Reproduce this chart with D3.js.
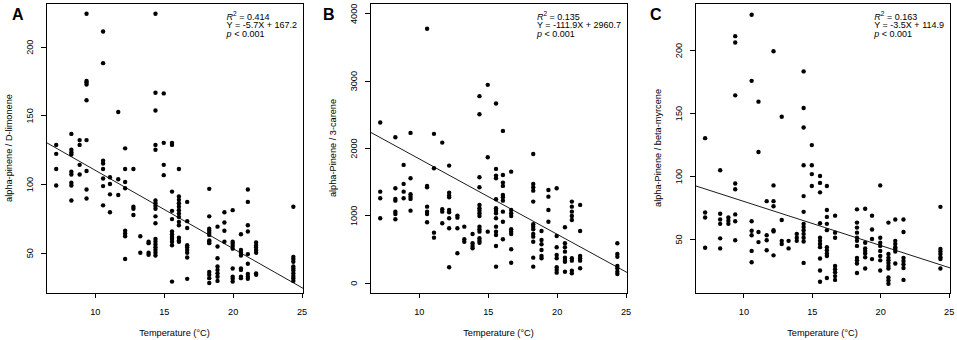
<!DOCTYPE html>
<html>
<head>
<meta charset="utf-8">
<script src="https://cdn.jsdelivr.net/npm/d3@7"></script>
<style>
  body { margin: 0; background: #fff; }
  text { font-family: "Liberation Sans", Arial, sans-serif; fill: #000; }
</style>
</head>
<body>
<svg id="chart" width="957" height="340"></svg>
<script>
// temperature columns (°C), shared by the three panels
var temps = [7.2, 8.3, 8.9, 9.4, 10.6, 11.1, 11.7, 12.2, 12.8, 13.3, 13.9, 14.4,
             15.0, 15.6, 16.1, 16.7, 18.3, 18.9, 19.4, 20.0, 20.6, 21.1, 21.7, 24.4];

// A: alpha-pinene / D-limonene, one list per temperature column
var ratioA = [
  [128.5, 122, 111, 99],
  [136.5, 125, 123, 121.5, 109, 107, 101, 99, 88],
  [132, 128.5, 114, 107],
  [224, 175, 174, 172.5, 161, 132, 109.5, 96, 89.5],
  [211, 188, 117, 115, 111, 104, 98.5, 84.5],
  [105, 100, 92.5, 79.5],
  [152.5, 103.5, 92],
  [126, 111, 101.5, 97, 66, 64, 62, 45.5],
  [111, 83.5, 82, 77.5],
  [62, 50],
  [58, 57, 50, 48.5],
  [224, 166.5, 153.5, 128.5, 125, 88, 86, 84, 82, 76.5, 71.5, 60, 58, 56, 54, 52, 50, 48],
  [166, 130, 114, 106.5],
  [130, 128.5, 94.5, 80.5, 74.5, 65.5, 63.5, 61.5, 60, 58, 55.5, 29],
  [111, 91, 88.5, 86, 83.5, 81, 78.5, 76, 72.5, 70, 61, 59, 58],
  [87, 73, 68, 55.5, 54, 52, 50, 46.5, 31],
  [96.5, 76.5, 67.5, 66, 64.5, 63, 59, 58, 57, 36, 34, 31.5, 28],
  [69, 54.5, 46, 40, 37.5, 35, 32.5, 29.5],
  [79.5, 72, 66, 58],
  [81, 58, 56.5, 55, 53, 38.5, 32.5, 31, 29],
  [63.5, 52, 50, 48, 38.5, 37.5, 32.5, 31.5],
  [96, 87, 70, 65.5, 49, 42, 34.5, 32.5, 31],
  [57.5, 55.5, 54, 52, 50, 35, 34],
  [83.5, 47, 45.5, 43.5, 40, 38.5, 37, 35, 33, 31.5, 29.5]
];

// B: alpha-Pinene / 3-carene
var ratioB = [
  [2378, 1352, 1254, 957],
  [2160, 1403, 1244, 1218, 1055, 1021, 942],
  [1749, 1467, 1352, 1254],
  [2224, 1551, 1313, 1278, 1244, 1070],
  [3770, 1437, 1418, 1129, 1055, 1021, 897],
  [2210, 1700, 743, 669],
  [2080, 1091, 1055, 883],
  [1739, 1337, 1293, 1269, 1080, 1046, 957, 808, 229],
  [996, 966, 808, 437],
  [832, 645, 609],
  [724, 585, 545, 511],
  [2770, 2502, 1566, 1418, 1155, 1105, 1070, 1031, 991, 832, 793, 758, 660, 624, 594],
  [2938, 1863, 758],
  [2660, 1690, 1590, 1551, 1239, 1105, 1070, 1031, 957, 832, 758, 709, 545, 238],
  [2254, 1600, 1486, 1437, 1303, 1269, 1218, 1055, 906, 645],
  [1649, 1080, 1031, 991, 793, 758, 724, 496, 297],
  [1912, 1467, 1418, 1367, 1204, 868, 832, 793, 724, 684, 609, 372, 238],
  [768, 634, 571, 486, 397, 363],
  [1377, 1278, 1080, 906],
  [1403, 694, 526, 412, 363, 229, 189, 149],
  [823, 585, 526, 461, 372, 337, 312, 163],
  [1204, 1129, 1055, 991, 932, 363, 327, 178, 140],
  [1155, 768, 397, 363, 327, 214],
  [585, 426, 386, 248, 214, 163, 129]
];

// C: alpha-Pinene / beta-myrcene
var ratioC = [
  [130, 71, 67, 43],
  [104.5, 70, 65.5, 62, 50.5, 42.5],
  [67, 64.5, 62],
  [211, 206, 164, 94, 89.5, 69.5, 64, 49],
  [228, 175.5, 64, 56.5, 53, 40.5, 31.5],
  [159, 119, 55.5, 47.5],
  [80, 53, 49, 41],
  [199, 92.5, 80, 76, 57, 56, 37],
  [147, 65, 48.5, 46],
  [48.5, 42.5],
  [54, 51, 48.5],
  [183, 154, 138.5, 108.5, 84, 71.5, 62, 59.5, 57, 54, 51, 48, 31],
  [124.5, 108.5, 101.5, 92],
  [100, 94.5, 87, 62.5, 51, 48.5, 46, 43.5, 34.5, 25, 16],
  [92, 73, 67.5, 62, 57, 43.5, 41, 38.5, 36.5, 19],
  [68.5, 55, 51, 28.5, 26, 23.5, 20.5, 17.5],
  [73.5, 63, 59, 55, 51, 48.5, 44.5, 35, 33, 30.5, 23],
  [74, 47, 42.5, 40.5, 38.5, 35.5, 26.5],
  [68.5, 57.5, 50, 34],
  [92.5, 51, 47, 44.5, 40.5, 36.5, 33, 25],
  [63, 38, 35, 33, 31, 28.5, 26.5, 19.5, 17, 14.5],
  [65.5, 48.5, 46, 43.5, 42, 40, 30.5],
  [65.5, 55.5, 35, 32.5, 30, 27, 17.5],
  [75.5, 42, 40, 38, 35.5, 34, 26.5]
];

// tick labels
var xTicks = [10, 15, 20, 25];
var yTicksA = [50, 100, 150, 200];
var yTicksB = [0, 1000, 2000, 3000, 4000];
var yTicksC = [50, 100, 150, 200];

// regression fits: [slope, intercept] and the printed stats
var fits = [[-5.7, 167.2], [-111.9, 2960.7], [-3.5, 114.9]];
var rSquared = ["0.414", "0.135", "0.163"];
var equations = ["Y = -5.7X + 167.2", "Y = -111.9X + 2960.7", "Y = -3.5X + 114.9"];
var yLabels = ["alpha-pinene / D-limonene", "alpha-Pinene / 3-carene", "alpha-Pinene / beta-myrcene"];
var letters = ["A", "B", "C"];

// layout of the three plot boxes
var plotTop = 3, plotBottom = 293;
var xDomain = [6.46, 25.1];
var panels = [
  {left: 46,  right: 303, yDomain: [20.7, 231.8], yTicks: yTicksA, values: ratioA, letterX: 12},
  {left: 370, right: 627, yDomain: [-153, 4153],  yTicks: yTicksB, values: ratioB, letterX: 323},
  {left: 695, right: 950, yDomain: [7.1, 237.3],  yTicks: yTicksC, values: ratioC, letterX: 650}
];

var svg = d3.select("#chart");

panels.forEach(function(p, k) {
    var x = d3.scaleLinear().domain(xDomain).range([p.left, p.right]);
    var y = d3.scaleLinear().domain(p.yDomain).range([plotBottom, plotTop]);
    var g = svg.append("g");

    // flatten column lists into [temp, value] points
    var pts = [];
    temps.forEach(function(t, i) {
        p.values[i].forEach(function(v) { pts.push([t, v]); });
    });

    g.append("g").selectAll("circle")
        .data(pts)
        .enter().append("circle")
            .attr("cx", function(d) { return x(d[0]); })
            .attr("cy", function(d) { return y(d[1]); })
            .attr("r", 2.2)
            .attr("fill", "#000");

    // fitted line, drawn edge to edge like abline
    var f = fits[k];
    g.append("line")
        .attr("x1", x(xDomain[0])).attr("y1", y(f[0] * xDomain[0] + f[1]))
        .attr("x2", x(xDomain[1])).attr("y2", y(f[0] * xDomain[1] + f[1]))
        .attr("stroke", "#000").attr("stroke-width", 0.9);

    // box
    g.append("rect")
        .attr("x", p.left).attr("y", plotTop)
        .attr("width", p.right - p.left).attr("height", plotBottom - plotTop)
        .attr("fill", "none").attr("stroke", "#000").attr("stroke-width", 1)
        .attr("shape-rendering", "crispEdges");

    // x axis
    var xa = g.append("g")
        .attr("transform", "translate(0," + plotBottom + ")")
        .call(d3.axisBottom(x).tickValues(xTicks).tickSize(5).tickPadding(10));
    xa.select(".domain").remove();
    xa.selectAll("line").attr("shape-rendering", "crispEdges");
    xa.selectAll("text").style("font-size", "9.2px")
        .style("font-family", "'Liberation Sans', Arial, sans-serif");

    // y axis, labels turned parallel to the axis (no thousands separator)
    var ya = g.append("g")
        .attr("transform", "translate(" + p.left + ",0)")
        .call(d3.axisLeft(y).tickValues(p.yTicks).tickSize(5).tickFormat(d3.format("d")));
    ya.select(".domain").remove();
    ya.selectAll("line").attr("shape-rendering", "crispEdges");
    ya.selectAll("text")
        .attr("transform", "rotate(-90)")
        .attr("x", 0).attr("y", -13).attr("dy", null)
        .style("text-anchor", "middle")
        .style("font-size", "9.2px")
        .style("font-family", "'Liberation Sans', Arial, sans-serif");

    // axis titles
    g.append("text")
        .attr("x", (p.left + p.right) / 2).attr("y", 336)
        .attr("text-anchor", "middle").style("font-size", "9.2px")
        .text("Temperature (°C)");
    g.append("text")
        .attr("transform", "translate(" + (p.left - 34) + "," + ((plotTop + plotBottom) / 2) + ") rotate(-90)")
        .attr("text-anchor", "middle").style("font-size", "9.2px")
        .text(yLabels[k]);

    // panel letter
    g.append("text")
        .attr("x", p.letterX).attr("y", 20)
        .style("font-size", "16px").style("font-weight", "bold")
        .text(letters[k]);

    // stats block in the top right corner
    var ann = g.append("g");
    var l1 = ann.append("text").attr("y", 19.5).style("font-size", "9px");
    l1.append("tspan").style("font-style", "italic").text("R");
    l1.append("tspan").attr("dy", -3.5).style("font-size", "6.5px").text("2");
    l1.append("tspan").attr("dy", 3.5).text(" = " + rSquared[k]);
    ann.append("text").attr("y", 28).style("font-size", "9px").text(equations[k]);
    var l3 = ann.append("text").attr("y", 36.5).style("font-size", "9px");
    l3.append("tspan").style("font-style", "italic").text("p");
    l3.append("tspan").text(" <  0.001");
    var w = ann.node().getBBox().width;
    ann.attr("transform", "translate(" + (p.right - 5 - w) + ",0)");
});
</script>
</body>
</html>
